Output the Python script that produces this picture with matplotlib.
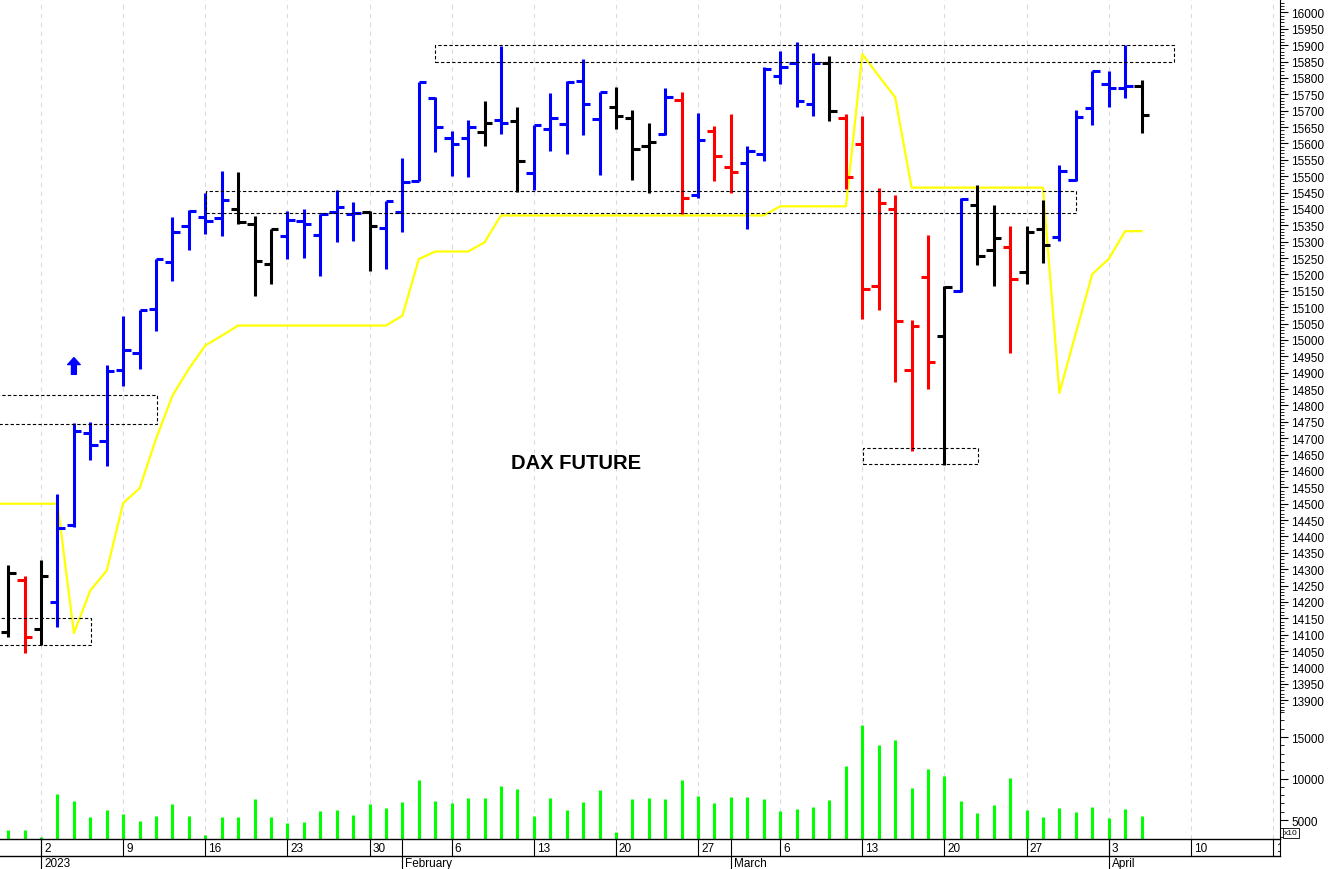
import numpy as np
import pandas as pd
import matplotlib
matplotlib.use('Agg')
import matplotlib.pyplot as plt
from matplotlib.patches import Rectangle
from matplotlib.lines import Line2D
from matplotlib.ticker import MultipleLocator, FixedLocator
from matplotlib import transforms

plt.rcParams['font.family'] = ['Liberation Sans', 'DejaVu Sans']

# trading days shown (Dec 29 2022 .. Apr 5 2023)
days = pd.bdate_range('2022-12-29', '2023-04-05')

opens = [14108, 14268, 14118, 14199, 14435, 14715, 14692, 14908, 14960, 15095,
         15237, 15349, 15375, 15372, 15400, 15354, 15232, 15318, 15364, 15321,
         15390, 15385, 15390, 15342, 15390, 15486, 15738, 15616, 15616, 15634,
         15673, 15670, 15509, 15644, 15660, 15792, 15675, 15712, 15677, 15592,
         15629, 15734, 15444, 15637, 15529, 15540, 15568, 15807, 15845, 15721,
         15845, 15677, 15598, 15166, 15400, 14908, 15192, 15011, 15148, 15413,
         15276, 15283, 15207, 15339, 15314, 15489, 15708, 15782, 15770, 15775]
highs = [14313, 14280, 14329, 14530, 14746, 14749, 14922, 15074, 15090, 15247,
         15375, 15398, 15448, 15517, 15514, 15378, 15339, 15395, 15400, 15385,
         15458, 15422, 15395, 15425, 15555, 15787, 15741, 15639, 15672, 15729,
         15899, 15712, 15657, 15754, 15790, 15858, 15756, 15772, 15703, 15662,
         15769, 15756, 15692, 15654, 15690, 15593, 15833, 15883, 15911, 15875,
         15866, 15690, 15683, 15464, 15444, 15061, 15321, 15164, 15433, 15474,
         15412, 15347, 15349, 15428, 15535, 15703, 15822, 15820, 15901, 15795]
lows = [14092, 14043, 14067, 14125, 14430, 14632, 14614, 14859, 14912, 15028,
        15181, 15276, 15322, 15317, 15355, 15135, 15171, 15247, 15250, 15196,
        15298, 15303, 15210, 15217, 15331, 15484, 15575, 15500, 15499, 15592,
        15629, 15451, 15459, 15577, 15568, 15626, 15505, 15644, 15489, 15448,
        15625, 15385, 15433, 15485, 15448, 15339, 15546, 15782, 15711, 15683,
        15667, 15461, 15064, 15090, 14871, 14662, 14850, 14618, 15145, 15229,
        15166, 14959, 15171, 15235, 15301, 15486, 15657, 15711, 15739, 15631]
closes = [14288, 14092, 14278, 14425, 14721, 14680, 14906, 14970, 15090, 15247,
          15329, 15395, 15362, 15427, 15359, 15242, 15339, 15366, 15354, 15385,
          15405, 15388, 15347, 15425, 15483, 15787, 15651, 15599, 15650, 15662,
          15662, 15546, 15657, 15678, 15789, 15721, 15756, 15685, 15583, 15604,
          15743, 15433, 15611, 15561, 15512, 15576, 15828, 15833, 15731, 15845,
          15700, 15499, 15156, 15418, 15057, 15044, 14932, 15161, 15431, 15257,
          15311, 15186, 15331, 15290, 15517, 15680, 15820, 15770, 15775, 15688]
colors = list('krkbbbbbbbbbbbkkkbbbbbkbbbbbbkbkbbbbbkkkbrbrrbbbbbkrrrrrrkbkkrkkbbbbbk')
volumes = [3830, 3830, 2900, 8130, 7330, 5360, 6200, 5720, 4880, 5480,
           6930, 5480, 3230, 5360, 5360, 7570, 5360, 4640, 4760, 6080,
           6240, 5600, 6960, 6480, 7170, 9860, 7330, 7080, 7650, 7650,
           9100, 8730, 5480, 7650, 6200, 7170, 8610, 3550, 7570, 7650,
           7490, 9780, 7890, 7010, 7770, 7770, 7530, 6120, 6290, 6530,
           7450, 11470, 16450, 14070, 14640, 8860, 11140, 10340, 7330, 5810,
           6840, 10100, 6240, 5330, 6410, 5930, 6600, 5200, 6290, 5450]
# stop line starts one day earlier (Dec 28), off the left edge
stop_line = [14500, 14500, 14500, 14500, 14500, 14105, 14235, 14296, 14502, 14547, 14698,
             14830, 14912, 14983, 15013, 15044, 15044, 15044, 15044, 15044, 15044,
             15044, 15044, 15044, 15044, 15074, 15247, 15270, 15270, 15270, 15298,
             15380, 15380, 15380, 15380, 15380, 15380, 15380, 15380, 15380, 15380,
             15380, 15380, 15380, 15380, 15380, 15380, 15380, 15408, 15408, 15408,
             15408, 15408, 15873, 15806, 15741, 15465, 15465, 15465, 15465, 15465,
             15465, 15465, 15465, 15465, 14838, 15021, 15201, 15247, 15332, 15332]

# dashed boxes: (first day, last day, low, high) in bar units from Jan 2
boxes = [(-2.6, 3.03, 14069, 14150),
         (-2.6, 7.05, 14743, 14832),
         (10.04, 63.0, 15387, 15454),
         (24.0, 69.0, 15848, 15901),
         (50.04, 57.05, 14621, 14669)]

color_map = {'k': 'black', 'r': '#ff0000', 'b': '#0000ff'}

W, H = 1328, 870
fig = plt.figure(figsize=(W / 100, H / 100), dpi=100)
right = 1280 / W
ax = fig.add_axes([0, 1 - 712 / H, right, 712 / H])
axv = fig.add_axes([0, 1 - 840 / H, right, 128 / H], sharex=ax)

x = np.arange(len(days)) - 2
x_stop = np.arange(len(stop_line)) - 3
all_days = pd.bdate_range('2022-12-29', '2023-04-21')
pos_all = np.arange(len(all_days)) - 2
mon_mask = (all_days.weekday == 0) & (all_days >= '2023-01-02')
mondays = pos_all[mon_mask]

for a in (ax, axv):
    for p in mondays:
        a.axvline(p, color='#d9d9ec', lw=0.8, ls=(0, (4, 4)), zorder=0)

# price bars
for xi, o, h, l, c, col in zip(x, opens, highs, lows, closes, colors):
    cc = color_map[col]
    ax.vlines(xi, l, h, color=cc, lw=2.2, zorder=3)
    ax.hlines(o, xi - 0.45, xi, color=cc, lw=2.2, zorder=3)
    ax.hlines(c, xi, xi + 0.45, color=cc, lw=2.2, zorder=3)

ax.plot(x_stop, stop_line, color='#ffff00', lw=1.6, zorder=2)

for x0, x1, lo, hi in boxes:
    ax.add_patch(Rectangle((x0, lo), x1 - x0, hi - lo, fill=False, ec='black',
                           lw=0.8, ls=(0, (3, 2)), zorder=4))

ax.annotate('', xy=(2, 14946), xytext=(2, 14895),
            arrowprops=dict(arrowstyle='simple,head_width=0.9,head_length=0.5,tail_width=0.35',
                            color='#0000ff', shrinkA=0, shrinkB=0))
ax.text(32.6, 14627, 'DAX FUTURE', fontsize=14.5, fontweight='bold',
        ha='center', va='center')

ax.set_xlim(-2.5, 75.43)
ax.set_ylim(13867, 16041)
ax.yaxis.tick_right()
ax.yaxis.set_major_locator(MultipleLocator(50))
ax.yaxis.set_minor_locator(MultipleLocator(10))
ax.tick_params(axis='y', which='major', length=6, width=0.8, labelsize=8.5, pad=2)
ax.tick_params(axis='y', which='minor', length=3, width=0.6)
ax.tick_params(axis='x', which='both', bottom=False, labelbottom=False)
for s in ('top', 'left', 'bottom'):
    ax.spines[s].set_visible(False)
ax.spines['right'].set_linewidth(0.8)

# volume
axv.vlines(x, 0, volumes, color='#00ff00', lw=2.2)
axv.set_ylim(2711, 18133)
axv.yaxis.tick_right()
axv.yaxis.set_major_locator(FixedLocator([5000, 10000, 15000]))
axv.yaxis.set_minor_locator(MultipleLocator(1000))
axv.tick_params(axis='y', which='major', length=6, width=0.8, labelsize=8.5, pad=2)
axv.tick_params(axis='y', which='minor', length=3, width=0.6)
axv.tick_params(axis='x', which='both', bottom=False, labelbottom=False)
for s in ('top', 'left'):
    axv.spines[s].set_visible(False)
axv.spines['right'].set_linewidth(0.8)
axv.spines['bottom'].set_linewidth(1.0)

# date rows below the volume panel
def fy(py):
    return 1 - py / H

trans = transforms.blended_transform_factory(axv.transData, fig.transFigure)
lab_trans = transforms.offset_copy(trans, fig=fig, x=3, y=0, units='dots')
clip = transforms.TransformedBbox(transforms.Bbox.from_extents(0, 0, right, 1), fig.transFigure)

for p, d in zip(mondays, all_days[mon_mask]):
    fig.add_artist(Line2D([p, p], [fy(840), fy(857)], transform=trans, color='black', lw=0.8))
    t = fig.text(p, fy(849), str(d.day), transform=lab_trans, fontsize=8.5,
                 ha='left', va='center')
    t.set_clip_on(True)
    t.set_clip_box(clip)

month_names = ['2023', 'February', 'March', 'April']
month_starts = ['2023-01-02', '2023-02-01', '2023-03-01', '2023-04-03']
for name, ms in zip(month_names, month_starts):
    p = pos_all[all_days.get_loc(pd.Timestamp(ms))]
    fig.add_artist(Line2D([p, p], [fy(840), fy(870)], transform=trans, color='black', lw=0.8))
    fig.text(p, fy(864), name, transform=lab_trans, fontsize=8.5, ha='left', va='center')

fig.add_artist(Line2D([0, right], [fy(857), fy(857)], transform=fig.transFigure, color='black', lw=1.0))
fig.add_artist(Line2D([right, right], [fy(840), fy(857)], transform=fig.transFigure, color='black', lw=0.8))
fig.text(1284 / W, fy(834), 'x10', fontsize=6, ha='left', va='center',
         bbox=dict(boxstyle='square,pad=0.15', fc='white', ec='black', lw=0.6))

fig.savefig('out.png', dpi=100, facecolor='white')
